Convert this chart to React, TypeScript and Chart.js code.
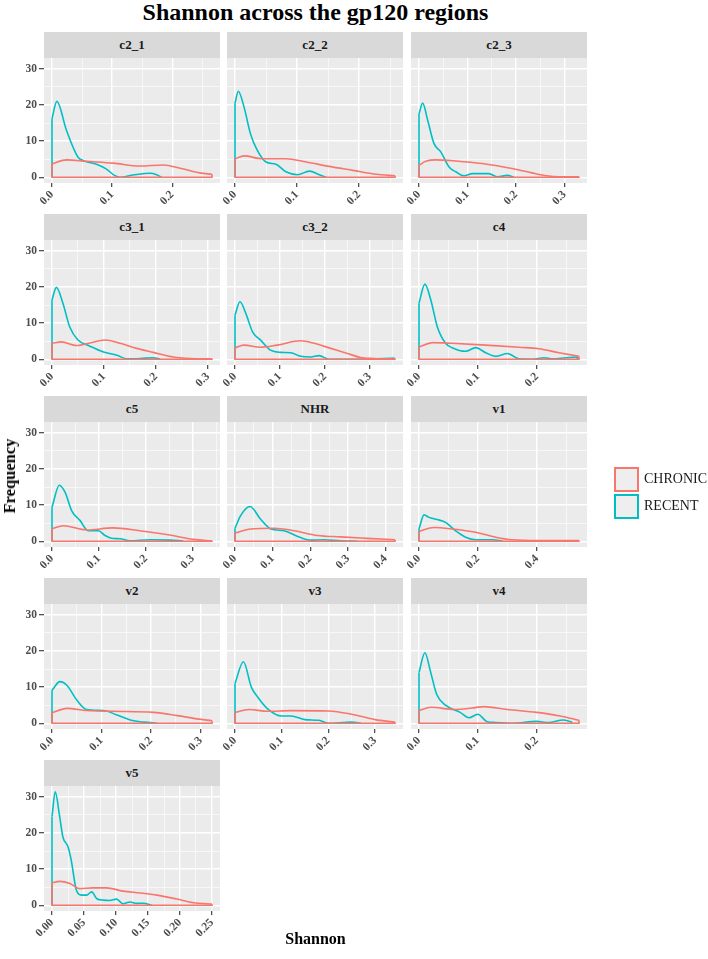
import React, { useEffect, useRef } from "react";
import { Chart, registerables } from "chart.js";
Chart.register(...registerables);

type Pt = [number, number];

const RED = "#F8766D";
const TEAL = "#00BFC4";
const SERIF = "'Liberation Serif', 'DejaVu Serif', 'Times New Roman', serif";

// ---------- data (x = Shannon, y = density frequency) ----------
const c2_1_RECENT: Pt[] = [[0,16.2],[0.008,21.0],[0.024,13.0],[0.043,5.6],[0.052,4.6],[0.074,3.6],[0.09,2.3],[0.104,0.5],[0.113,0],[0.135,0.6],[0.163,1.1],[0.174,0.7],[0.182,0]];
const c2_1_CHRONIC: Pt[] = [[0,3.7],[0.024,4.8],[0.057,4.4],[0.102,3.9],[0.146,3.1],[0.185,3.4],[0.213,2.5],[0.246,1.2],[0.266,0.8]];

const c2_2_RECENT: Pt[] = [[0,20.5],[0.0054,23.8],[0.0146,19.4],[0.025,12],[0.036,7.4],[0.05,4.2],[0.066,3.6],[0.082,1.5],[0.101,0.7],[0.12,1.7],[0.136,0.7],[0.147,0]];
const c2_2_CHRONIC: Pt[] = [[0,5.1],[0.0146,5.9],[0.044,5.1],[0.082,5.1],[0.115,4.2],[0.152,3.0],[0.19,1.9],[0.228,0.8],[0.258,0.4]];

const c2_3_RECENT: Pt[] = [[0,17.5],[0.0075,20.5],[0.018,15.7],[0.031,9.3],[0.045,7.0],[0.062,2.8],[0.076,1.5],[0.093,0.4],[0.11,1.0],[0.144,1.0],[0.162,0.1],[0.182,0.5],[0.196,0]];
const c2_3_CHRONIC: Pt[] = [[0,3.3],[0.014,4.4],[0.035,4.8],[0.076,4.5],[0.13,3.8],[0.192,2.4],[0.233,1.2],[0.263,0.4],[0.288,0.1],[0.33,0.1]];

const c3_1_RECENT: Pt[] = [[0,16.4],[0.0084,19.9],[0.021,15.5],[0.034,9],[0.05,5.3],[0.073,3.6],[0.099,2.0],[0.125,1.1],[0.144,0.1],[0.17,0.2],[0.195,0.4],[0.208,0]];
const c3_1_CHRONIC: Pt[] = [[0,4.4],[0.018,4.8],[0.047,3.8],[0.073,4.5],[0.102,5.3],[0.131,4.4],[0.163,3.0],[0.195,1.9],[0.234,0.6],[0.266,0.2],[0.308,0.1]];

const c3_2_RECENT: Pt[] = [[0,12.2],[0.011,15.9],[0.024,12.7],[0.039,7.6],[0.057,5.3],[0.079,2.5],[0.101,1.9],[0.124,1.8],[0.146,0.8],[0.168,0.6],[0.187,1.0],[0.209,0],[0.287,0],[0.331,0.2],[0.355,0.3]];
const c3_2_CHRONIC: Pt[] = [[0,3.2],[0.02,3.9],[0.057,3.3],[0.094,3.9],[0.146,5.1],[0.176,4.4],[0.213,3.0],[0.25,1.6],[0.279,0.5],[0.309,0.2],[0.356,0.1]];

const c4_RECENT: Pt[] = [[0,15.5],[0.01,20.8],[0.02,16.4],[0.031,9],[0.045,4.4],[0.056,3.2],[0.079,2.2],[0.096,3.2],[0.113,1.8],[0.13,0.8],[0.15,1.6],[0.169,0.1],[0.192,0],[0.212,0.4],[0.226,0.1],[0.249,0.4],[0.268,0.6]];
const c4_CHRONIC: Pt[] = [[0,3.4],[0.023,4.6],[0.056,4.4],[0.113,3.9],[0.17,3.3],[0.203,2.9],[0.237,1.8],[0.271,0.8]];

const c5_RECENT: Pt[] = [[0,9.4],[0.0156,15.5],[0.028,13.5],[0.042,8.4],[0.06,5.7],[0.077,2.9],[0.099,2.9],[0.113,1.6],[0.127,0.8],[0.145,0.7],[0.166,0.1],[0.209,0.4],[0.251,0.3],[0.279,0.1]];
const c5_CHRONIC: Pt[] = [[0,3.4],[0.024,4.3],[0.074,3.1],[0.13,3.7],[0.187,2.9],[0.251,1.7],[0.301,0.5],[0.341,0.1]];

const NHR_RECENT: Pt[] = [[0,3.6],[0.015,7.1],[0.04,9.6],[0.068,6.1],[0.095,3.4],[0.13,2.9],[0.165,1.4],[0.2,0.3],[0.236,0.4],[0.28,0.1],[0.325,0]];
const NHR_CHRONIC: Pt[] = [[0,2.3],[0.042,3.4],[0.104,3.6],[0.157,2.9],[0.219,1.6],[0.28,1.2],[0.351,0.8],[0.425,0.4]];

const v1_RECENT: Pt[] = [[0,3.4],[0.017,7.3],[0.034,6.6],[0.062,6.0],[0.09,5.2],[0.124,2.9],[0.158,1.1],[0.192,0.4],[0.249,0.4],[0.282,0.1]];
const v1_CHRONIC: Pt[] = [[0,2.7],[0.051,3.8],[0.113,3.4],[0.192,2.5],[0.26,1.1],[0.316,0.4],[0.407,0.2],[0.542,0.2]];

const v2_RECENT: Pt[] = [[0,9.1],[0.016,11.5],[0.03,10.5],[0.05,6.4],[0.07,3.8],[0.104,3.5],[0.131,2.3],[0.158,0.9],[0.185,0.3],[0.212,0]];
const v2_CHRONIC: Pt[] = [[0,2.9],[0.03,4.1],[0.07,3.5],[0.124,3.3],[0.205,3.0],[0.253,2.1],[0.293,1.2],[0.323,0.7]];

const v3_RECENT: Pt[] = [[0,11],[0.018,17],[0.035,10],[0.05,7],[0.07,4],[0.1,2],[0.12,2],[0.15,1],[0.18,0.8],[0.2,0],[0.25,0.3],[0.27,0]];
const v3_CHRONIC: Pt[] = [[0,3],[0.03,3.8],[0.07,3.3],[0.12,3.5],[0.2,3.4],[0.25,2.5],[0.3,1.0],[0.343,0.3]];

const v4_RECENT: Pt[] = [[0,14],[0.01,19.5],[0.02,14],[0.03,8],[0.045,5],[0.07,3],[0.085,1.5],[0.1,2.5],[0.115,0.5],[0.13,0.2],[0.16,0],[0.2,0.5],[0.22,0.2],[0.245,0.9],[0.26,0.3]];
const v4_CHRONIC: Pt[] = [[0,3.5],[0.02,4.4],[0.06,3.8],[0.09,4.2],[0.11,4.6],[0.15,3.8],[0.2,3],[0.24,2],[0.272,0.8]];

const v5_RECENT: Pt[] = [[0,24.5],[0.005,31.4],[0.012,24.5],[0.017,18.9],[0.025,16.2],[0.03,12.5],[0.038,4.2],[0.046,2.8],[0.054,2.8],[0.062,3.7],[0.07,1.8],[0.08,1.4],[0.09,1.3],[0.101,1.7],[0.111,0.4],[0.122,0.9],[0.132,0.5],[0.143,0.55],[0.156,0]];
const v5_CHRONIC: Pt[] = [[0,6.2],[0.012,6.6],[0.028,6.0],[0.043,4.6],[0.064,4.8],[0.085,4.8],[0.111,3.9],[0.138,3.4],[0.164,2.8],[0.195,1.7],[0.221,0.7],[0.25,0.3]];

// ---------- tick sets ----------
const TICKS_02 = [0, 0.1, 0.2];
const LABELS_02 = ["0.0", "0.1", "0.2"];
const TICKS_03 = [0, 0.1, 0.2, 0.3];
const LABELS_03 = ["0.0", "0.1", "0.2", "0.3"];
const TICKS_04 = [0, 0.1, 0.2, 0.3, 0.4];
const LABELS_04 = ["0.0", "0.1", "0.2", "0.3", "0.4"];
const TICKS_V1 = [0, 0.2, 0.4];
const LABELS_V1 = ["0.0", "0.2", "0.4"];
const TICKS_V5 = [0, 0.05, 0.1, 0.15, 0.2, 0.25];
const LABELS_V5 = ["0.00", "0.05", "0.10", "0.15", "0.20", "0.25"];

const Y_TICKS = [0, 10, 20, 30];
const Y_LABELS = ["0", "10", "20", "30"];
const Y_MIN = -1.6;
const Y_MAX = 33;

const PANEL_NAMES = ["c2_1", "c2_2", "c2_3", "c3_1", "c3_2", "c4", "c5", "NHR", "v1", "v2", "v3", "v4", "v5"];
const RECENT_SERIES = [c2_1_RECENT, c2_2_RECENT, c2_3_RECENT, c3_1_RECENT, c3_2_RECENT, c4_RECENT, c5_RECENT, NHR_RECENT, v1_RECENT, v2_RECENT, v3_RECENT, v4_RECENT, v5_RECENT];
const CHRONIC_SERIES = [c2_1_CHRONIC, c2_2_CHRONIC, c2_3_CHRONIC, c3_1_CHRONIC, c3_2_CHRONIC, c4_CHRONIC, c5_CHRONIC, NHR_CHRONIC, v1_CHRONIC, v2_CHRONIC, v3_CHRONIC, v4_CHRONIC, v5_CHRONIC];
const X_TICKS = [TICKS_02, TICKS_02, TICKS_03, TICKS_03, TICKS_03, TICKS_02, TICKS_03, TICKS_04, TICKS_V1, TICKS_03, TICKS_03, TICKS_02, TICKS_V5];
const X_LABELS = [LABELS_02, LABELS_02, LABELS_03, LABELS_03, LABELS_03, LABELS_02, LABELS_03, LABELS_04, LABELS_V1, LABELS_03, LABELS_03, LABELS_02, LABELS_V5];

// ---------- layout ----------
const COL_LEFT = [44, 227, 411];
const ROW_TOP = [32, 214, 396, 578, 760];
const PW = 176;
const PH = 125;
const STRIP_H = 26;
const X_AXIS_H = 40;

const bgPlugin = {
  id: "panelBg",
  beforeDraw(chart: any) {
    const { ctx, chartArea } = chart;
    ctx.save();
    ctx.fillStyle = "#EBEBEB";
    ctx.fillRect(chartArea.left, chartArea.top, chartArea.right - chartArea.left, chartArea.bottom - chartArea.top);
    ctx.restore();
  },
};

const near = (a: number, b: number) => Math.abs(a - b) < 1e-9;

function Panel({ idx }: { idx: number }) {
  const ref = useRef<HTMLCanvasElement>(null);
  const col = idx % 3;
  const row = Math.floor(idx / 3);
  const yW = col === 0 ? 40 : 0;
  const padL = col === 0 ? 0 : 16;
  const W = padL + yW + PW;
  const H = PH + X_AXIS_H;
  const left = COL_LEFT[col] - yW - padL;
  const top = ROW_TOP[row] + STRIP_H;

  useEffect(() => {
    const recent = RECENT_SERIES[idx];
    const chronic = CHRONIC_SERIES[idx];
    const majors = X_TICKS[idx];
    const labels = X_LABELS[idx];
    const rEnd = recent[recent.length - 1];
    const cEnd = chronic[chronic.length - 1];
    const dataMax = Math.max(rEnd[0], cEnd[0]);
    const xMin = -0.05 * dataMax;
    const xMax = dataMax * 1.05;
    const step = majors[1] - majors[0];
    const minors: number[] = [];
    for (let v = majors[0] + step / 2; v <= xMax; v += step) minors.push(v);
    const allX = [...majors, ...minors].sort((a, b) => a - b);
    const yMinors = [5, 15, 25];
    const allY = [...Y_TICKS, ...yMinors].sort((a, b) => a - b);

    const curve = (pts: Pt[]) => pts.map(([x, y]) => ({ x, y }));
    // closed outline of the density polygon: right edge, baseline, left edge
    const chronicOutline = [
      { x: cEnd[0], y: cEnd[1] },
      { x: cEnd[0], y: 0 },
      { x: chronic[0][0], y: 0 },
      { x: chronic[0][0], y: chronic[0][1] },
    ];
    const recentLeft = [
      { x: recent[0][0], y: 0 },
      { x: recent[0][0], y: recent[0][1] },
    ];
    const recentRight = [
      { x: rEnd[0], y: rEnd[1] },
      { x: rEnd[0], y: 0 },
      { x: Math.min(rEnd[0], cEnd[0]), y: 0 },
    ];
    const lineDs = (data: any[], color: string, order: number, smooth: boolean) => ({
      data,
      borderColor: color,
      backgroundColor: color,
      borderWidth: 1.6,
      pointRadius: 0,
      showLine: true,
      fill: false,
      order,
      tension: 0,
      cubicInterpolationMode: smooth ? "monotone" : "default",
    });

    const isMajorX = (v: number) => majors.some((m) => near(m, v));
    const isMajorY = (v: number) => Y_TICKS.some((m) => near(m, v));
    const tickFont = { family: SERIF, size: 11.5, weight: "bold" as const };

    const chart = new Chart(ref.current as HTMLCanvasElement, {
      type: "scatter",
      data: {
        datasets: [
          lineDs(curve(chronic), RED, 0, true),
          lineDs(chronicOutline, RED, 0, false),
          lineDs(curve(recent), TEAL, 1, true),
          lineDs(recentLeft, TEAL, 1, false),
          lineDs(recentRight, TEAL, 1, false),
        ] as any,
      },
      options: {
        animation: false,
        responsive: false,
        devicePixelRatio: 1,
        events: [],
        layout: { padding: { left: padL, right: 0, top: 0, bottom: 0 } },
        plugins: { legend: { display: false }, tooltip: { enabled: false }, title: { display: false } },
        scales: {
          x: {
            type: "linear",
            min: xMin,
            max: xMax,
            bounds: "data",
            border: { display: false },
            grid: {
              color: "#FFFFFF",
              lineWidth: (ctx: any) => (ctx.tick && isMajorX(ctx.tick.value) ? 1.4 : 0.6),
              drawTicks: true,
              tickLength: 4,
              tickWidth: 1.1,
              tickColor: (ctx: any) => (ctx.tick && isMajorX(ctx.tick.value) ? "#333333" : "rgba(0,0,0,0)"),
            },
            ticks: {
              autoSkip: false,
              maxRotation: 45,
              minRotation: 45,
              padding: 1,
              color: "#4D4D4D",
              font: tickFont,
              callback: (v: any) => {
                const i = majors.findIndex((m) => near(m, Number(v)));
                return i >= 0 ? labels[i] : "";
              },
            },
            afterBuildTicks: (s: any) => {
              s.ticks = allX.map((v) => ({ value: v }));
            },
            afterFit: (s: any) => {
              s.height = X_AXIS_H;
              s.paddingLeft = 0;
              s.paddingRight = 0;
            },
          },
          y: {
            type: "linear",
            min: Y_MIN,
            max: Y_MAX,
            bounds: "data",
            border: { display: false },
            grid: {
              color: "#FFFFFF",
              lineWidth: (ctx: any) => (ctx.tick && isMajorY(ctx.tick.value) ? 1.4 : 0.6),
              drawTicks: col === 0,
              tickLength: 5,
              tickWidth: 1.1,
              tickColor: (ctx: any) => (ctx.tick && isMajorY(ctx.tick.value) ? "#333333" : "rgba(0,0,0,0)"),
            },
            ticks: {
              display: col === 0,
              autoSkip: false,
              padding: 2,
              color: "#4D4D4D",
              font: tickFont,
              callback: (v: any) => {
                const i = Y_TICKS.findIndex((m) => near(m, Number(v)));
                return i >= 0 ? Y_LABELS[i] : "";
              },
            },
            afterBuildTicks: (s: any) => {
              s.ticks = allY.map((v) => ({ value: v }));
            },
            afterFit: (s: any) => {
              s.width = yW;
              s.paddingTop = 0;
              s.paddingBottom = 0;
            },
          },
        },
      } as any,
      plugins: [bgPlugin],
    });
    return () => chart.destroy();
  }, [idx]);

  return (
    <>
      <div
        style={{
          position: "absolute",
          left: COL_LEFT[col],
          top: ROW_TOP[row],
          width: PW,
          height: STRIP_H,
          background: "#D9D9D9",
          display: "flex",
          alignItems: "center",
          justifyContent: "center",
          fontFamily: SERIF,
          fontWeight: "bold",
          fontSize: 13,
          color: "#1A1A1A",
        }}
      >
        {PANEL_NAMES[idx]}
      </div>
      <canvas
        ref={ref}
        width={W}
        height={H}
        style={{ position: "absolute", left, top, width: W, height: H }}
      />
    </>
  );
}

export default function App() {
  return (
    <div style={{ position: "absolute", left: 0, top: 0, width: 708, height: 959, background: "#FFFFFF", overflow: "hidden" }}>
      <div
        style={{
          position: "absolute",
          left: 0,
          width: 631,
          top: 0,
          textAlign: "center",
          fontFamily: SERIF,
          fontWeight: "bold",
          fontSize: 24,
          lineHeight: "24px",
          color: "#000",
        }}
      >
        Shannon across the gp120 regions
      </div>
      {PANEL_NAMES.map((_, i) => (
        <Panel key={i} idx={i} />
      ))}
      <div
        style={{
          position: "absolute",
          left: 10,
          top: 476,
          transform: "translate(-50%, -50%) rotate(-90deg)",
          fontFamily: SERIF,
          fontWeight: "bold",
          fontSize: 16.5,
          lineHeight: "16px",
          whiteSpace: "nowrap",
          color: "#000",
        }}
      >
        Frequency
      </div>
      <div
        style={{
          position: "absolute",
          left: 0,
          width: 631,
          top: 931,
          textAlign: "center",
          fontFamily: SERIF,
          fontWeight: "bold",
          fontSize: 16,
          lineHeight: "16px",
          color: "#000",
        }}
      >
        Shannon
      </div>
      {[
        { label: "CHRONIC", color: RED, top: 467 },
        { label: "RECENT", color: TEAL, top: 494 },
      ].map((k) => (
        <React.Fragment key={k.label}>
          <div
            style={{
              position: "absolute",
              left: 614,
              top: k.top,
              width: 25,
              height: 25,
              boxSizing: "border-box",
              border: `2px solid ${k.color}`,
              background: "#EEEEEE",
            }}
          />
          <div
            style={{
              position: "absolute",
              left: 644,
              top: k.top + 5,
              fontFamily: SERIF,
              fontSize: 14,
              lineHeight: "14px",
              color: "#1A1A1A",
              whiteSpace: "nowrap",
            }}
          >
            {k.label}
          </div>
        </React.Fragment>
      ))}
    </div>
  );
}
